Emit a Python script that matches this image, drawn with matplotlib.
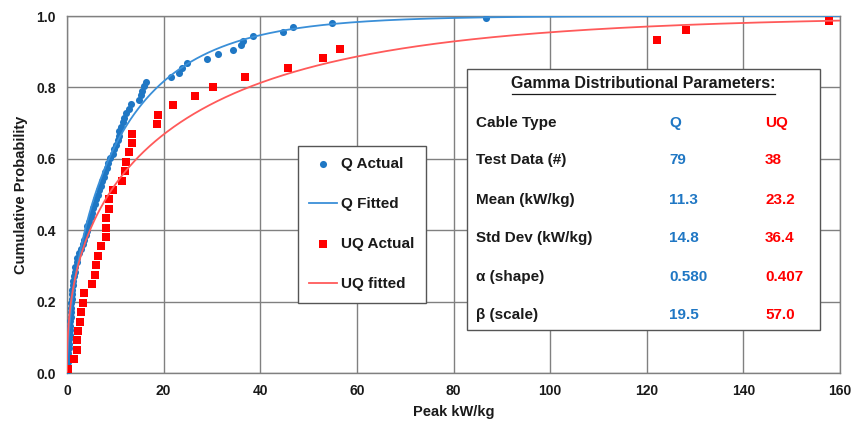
import math
import numpy as np
import matplotlib
matplotlib.use("Agg")
import matplotlib.pyplot as plt
from matplotlib.patches import Rectangle

plt.rcParams['font.family'] = ['Liberation Sans', 'DejaVu Sans']
plt.rcParams['font.weight'] = 'bold'
plt.rcParams['axes.labelweight'] = 'bold'

# Peak kW/kg test values, sorted
q_peak = [0.06, 0.10, 0.17, 0.23, 0.31, 0.37, 0.41, 0.46, 0.52, 0.58,
          0.64, 0.70, 0.77, 0.83, 0.87, 0.91, 0.97, 1.04, 1.12, 1.20,
          1.28, 1.41, 1.59, 1.72, 1.97, 2.17, 2.48, 2.90, 3.25, 3.52,
          3.87, 4.14, 4.24, 4.55, 4.87, 5.13, 5.44, 5.76, 6.05, 6.36,
          6.63, 6.94, 7.25, 7.58, 7.89, 8.18, 8.49, 8.90, 9.42, 9.79,
          10.21, 10.56, 10.83, 10.83, 11.14, 11.49, 11.80, 12.22, 12.77, 13.15,
          14.91, 15.28, 15.59, 15.94, 16.31, 21.5, 23.2, 23.8, 24.8, 28.9,
          31.3, 34.4, 36.0, 36.4, 38.6, 44.8, 46.7, 54.8, 86.7]
uq_peak = [0.3, 1.45, 2.0, 2.13, 2.34, 2.6, 3.0, 3.25, 3.52, 5.1,
           5.8, 5.94, 6.35, 6.98, 8.0, 8.0, 8.0, 8.76, 8.76, 9.6,
           11.3, 12.0, 12.15, 12.8, 13.4, 13.5, 18.6, 18.8, 21.9, 26.5,
           30.3, 36.9, 45.8, 52.9, 56.5, 122.1, 128.2, 157.8]

# table values
row_labels = ["Cable Type", "Test Data (#)", "Mean (kW/kg)", "Std Dev (kW/kg)",
              "\u03b1 (shape)", "\u03b2 (scale)"]
q_col = ["Q", "79", "11.3", "14.8", "0.580", "19.5"]
uq_col = ["UQ", "38", "23.2", "36.4", "0.407", "57.0"]
q_shape, q_scale = 0.580, 19.5
uq_shape, uq_scale = 0.407, 57.0

BLUE = '#1F77C4'
BLUE_LINE = '#3A8FD8'
RED = '#FF0000'
RED_LINE = '#FF5A5A'
GRID = '#808080'
TXT = '#1a1a1a'


def plotting_position(n):
    # empirical cdf rank (i - 0.5) / n
    return (np.arange(1, n + 1) - 0.5) / n


def gamma_cdf(x, a, scale):
    # regularized lower incomplete gamma by series
    z = np.asarray(x, dtype=float) / scale
    term = np.full_like(z, 1.0 / a)
    total = term.copy()
    for n in range(1, 400):
        term = term * z / (a + n)
        total += term
    return np.exp(a * np.log(z) - z - math.lgamma(a)) * total


W, H = 857, 426
fig = plt.figure(figsize=(W / 100, H / 100), dpi=100)
ax = fig.add_axes([67 / W, 1 - 373.3 / H, 773 / W, 357.3 / H])

xs = np.concatenate([np.geomspace(1e-4, 1, 200), np.linspace(1.0, 160, 800)[1:]])

ax.scatter(q_peak, plotting_position(len(q_peak)), s=26, color=BLUE,
           marker='o', linewidths=0, zorder=3, label='Q Actual')
ax.plot(xs, gamma_cdf(xs, q_shape, q_scale), color=BLUE_LINE, lw=1.3,
        zorder=3, label='Q Fitted')
ax.scatter(uq_peak, plotting_position(len(uq_peak)), s=30, color=RED,
           marker='s', linewidths=0, zorder=3, label='UQ Actual')
ax.plot(xs, gamma_cdf(xs, uq_shape, uq_scale), color=RED_LINE, lw=1.3,
        zorder=3, label='UQ fitted')

ax.set_xlim(0, 160)
ax.set_ylim(0, 1.0)
ax.set_xticks(np.arange(0, 161, 20))
ax.set_yticks(np.arange(0, 1.01, 0.2))
ax.yaxis.set_major_formatter(matplotlib.ticker.FormatStrFormatter('%.1f'))
ax.grid(True, color=GRID, lw=1.0)
ax.set_axisbelow(True)
for s in ax.spines.values():
    s.set_color(GRID)
    s.set_linewidth(1.0)
ax.tick_params(length=0, labelsize=10, pad=8, colors=TXT)
ax.set_xlabel('Peak kW/kg', fontsize=10.5, labelpad=5, color=TXT)
ax.set_ylabel('Cumulative Probability', fontsize=10.5, labelpad=6, color=TXT)

leg = ax.legend(loc='upper left', bbox_to_anchor=((298 - 67) / 773, (373.3 - 146) / 357.3),
                borderaxespad=0, prop={'size': 11, 'weight': 'bold'},
                frameon=True, fancybox=False,
                handlelength=1.8, handletextpad=0.25, labelspacing=1.7,
                borderpad=0.75, markerscale=1.0)
leg.get_frame().set_edgecolor('#555555')
leg.get_frame().set_linewidth(1.0)
leg.get_frame().set_alpha(1)
leg.set_zorder(6)
for t in leg.get_texts():
    t.set_color(TXT)


def fx(px):
    return px / W


def fy(py):
    return 1 - py / H


# parameter table box
fig.patches.append(Rectangle((fx(467), fy(330)), (820 - 467) / W, (330 - 69) / H,
                             transform=fig.transFigure, facecolor='white',
                             edgecolor='#555555', lw=1.0, zorder=5))
fig.text(fx(643), fy(84), 'Gamma Distributional Parameters:', ha='center', va='center',
         fontsize=11.5, color=TXT, zorder=6)
title_line_y = fy(94)
fig.add_artist(plt.Line2D([fx(512), fx(775)], [title_line_y, title_line_y],
                          transform=fig.transFigure, color=TXT, lw=0.9, zorder=6))
row_y = [122.7, 160, 200, 238, 276.7, 315]
for lab, qv, uv, py in zip(row_labels, q_col, uq_col, row_y):
    fig.text(fx(476), fy(py), lab, ha='left', va='center', fontsize=11,
             color=TXT, zorder=6)
    fig.text(fx(669), fy(py), qv, ha='left', va='center', fontsize=11,
             color=BLUE, zorder=6)
    fig.text(fx(765), fy(py), uv, ha='left', va='center', fontsize=11,
             color=RED, zorder=6)

fig.savefig('out.png', dpi=100)
